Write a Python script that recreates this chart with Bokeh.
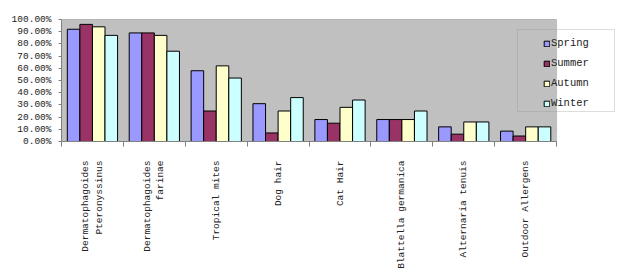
import math
from bokeh.plotting import figure
from bokeh.models import (ColumnDataSource, FixedTicker, NumeralTickFormatter, Legend,
                          LegendItem, Range1d, BoxAnnotation)
from bokeh.embed import file_html
from bokeh.resources import INLINE

categories = ["Dermatophagoides\nPteronyssinus", "Dermatophagoides\nfarinae", "Tropical mites",
              "Dog hair", "Cat Hair", "Blattella germanica", "Alternaria tenuis", "Outdoor Allergens"]
seasons = ["Spring", "Summer", "Autumn", "Winter"]
spring = [0.92, 0.89, 0.58, 0.31, 0.18, 0.18, 0.12, 0.085]
summer = [0.96, 0.89, 0.25, 0.07, 0.15, 0.18, 0.06, 0.045]
autumn = [0.94, 0.87, 0.62, 0.25, 0.28, 0.18, 0.16, 0.12]
winter = [0.87, 0.74, 0.52, 0.36, 0.34, 0.25, 0.16, 0.12]
y_ticks = [0.0, 0.1, 0.2, 0.3, 0.4, 0.5, 0.6, 0.7, 0.8, 0.9, 1.0]
colors = ["#9999FF", "#993366", "#FFFFCC", "#CCFFFF"]

series = [spring, summer, autumn, winter]
FONT = "Liberation Mono"
n = len(categories)

# frame extends to the right beyond the plot area so the legend is not clipped
p = figure(width=623, height=272, output_backend="svg", toolbar_location=None,
           x_range=Range1d(0, 9.0), y_range=Range1d(0, 1))
p.min_border_left = 61
p.min_border_right = 5
p.min_border_top = 19
p.min_border_bottom = 131
p.background_fill_color = "white"
p.border_fill_color = "white"
p.outline_line_color = None

# plot area background and frame
bg = BoxAnnotation(left=0, right=n, bottom=0, top=1, fill_color="#C0C0C0", fill_alpha=1,
                   line_color="#808080", line_width=1, level="underlay")
p.add_layout(bg)

# horizontal grid lines, limited to the plot area
p.segment(x0=[0] * len(y_ticks), x1=[n] * len(y_ticks), y0=y_ticks, y1=y_ticks,
          line_color="#808080", line_width=1, level="underlay")

bw = 0.203
renderers = []
for k, (name, vals, col) in enumerate(zip(seasons, series, colors)):
    xs = [i + 0.5 + (k - 1.5) * bw for i in range(n)]
    src = ColumnDataSource(dict(x=xs, top=vals))
    r = p.vbar(x="x", top="top", width=bw, source=src, fill_color=col,
               line_color="black", line_width=1)
    renderers.append(r)

# axes
centers = [i + 0.5 for i in range(n)]
p.xaxis.ticker = FixedTicker(ticks=centers, minor_ticks=list(range(n + 1)))
p.xaxis.bounds = (0, n)
p.xaxis.major_label_overrides = {c: lab for c, lab in zip(centers, categories)}
p.xaxis.major_label_orientation = math.pi / 2
p.xaxis.major_tick_line_color = None
p.xaxis.major_tick_out = 0
p.xaxis.minor_tick_out = 5
p.xaxis.minor_tick_in = 0
p.xaxis.minor_tick_line_color = "#808080"
p.xaxis.axis_line_color = "#808080"
p.xaxis.major_label_standoff = 14
p.xaxis.major_label_text_font = FONT
p.xaxis.major_label_text_font_size = "9.5px"
p.xaxis.major_label_text_color = "#222222"

p.yaxis.ticker = FixedTicker(ticks=y_ticks)
p.yaxis.formatter = NumeralTickFormatter(format="0.00%")
p.yaxis.major_tick_out = 3
p.yaxis.major_tick_in = 0
p.yaxis.minor_tick_line_color = None
p.yaxis.axis_line_color = "#808080"
p.yaxis.major_tick_line_color = "#808080"
p.yaxis.major_label_text_font = FONT
p.yaxis.major_label_text_font_size = "9.5px"
p.yaxis.major_label_text_color = "#222222"
p.yaxis.major_label_standoff = 7

p.xgrid.grid_line_color = None
p.ygrid.grid_line_color = None

legend = Legend(items=[LegendItem(label=s, renderers=[r]) for s, r in zip(seasons, renderers)],
                location=(482, 31), orientation="vertical")
legend.background_fill_alpha = 0
legend.border_line_color = None
legend.label_text_font = FONT
legend.label_text_font_size = "10.5px"
legend.label_text_color = "#222222"
legend.glyph_width = 7
legend.glyph_height = 7
legend.label_standoff = 1
legend.label_height = 14
legend.spacing = 6
legend.padding = 4
legend.margin = 0
p.add_layout(legend, "center")

box = BoxAnnotation(left=517, right=614, top=29, bottom=111,
                    left_units="canvas", right_units="canvas",
                    top_units="canvas", bottom_units="canvas",
                    fill_alpha=0, line_color="#909090", line_width=1)
p.add_layout(box)

open("out.html", "w").write(file_html(p, INLINE))
